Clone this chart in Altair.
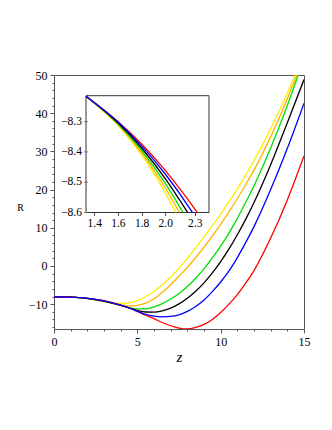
import altair as alt
import pandas as pd

# z grid (shared by all curves in the main plot)
z = [0, 0.5, 1, 1.33, 1.6, 1.8, 2.0, 2.2, 2.3, 2.4, 3, 3.5, 4, 4.5, 5, 5.5, 6, 6.5,
     7, 7.5, 8, 8.5, 9, 9.5, 10, 10.5, 11, 11.5, 12, 13, 14, 15]

yellow = [-8.11, -8.12, -8.16, -8.216, -8.312, -8.410, -8.535, -8.687, -8.772, -8.864,
          -9.35, -9.65, -9.80, -9.65, -9.10, -8.05, -6.60, -4.90, -2.90, -0.55, 2.00,
          4.75, 7.60, 10.55, 13.60, 16.85, 20.20, 23.80, 27.60, 35.90, 45.20, 55.60]
orange = [-8.11, -8.12, -8.16, -8.216, -8.309, -8.402, -8.519, -8.659, -8.737, -8.822,
          -9.30, -9.75, -10.15, -10.45, -10.30, -9.75, -8.60, -6.90, -4.90, -2.70, -0.40,
          2.20, 4.90, 7.85, 10.90, 14.20, 17.60, 21.30, 25.10, 33.80, 43.80, 54.80]
green = [-8.11, -8.12, -8.16, -8.216, -8.307, -8.395, -8.504, -8.634, -8.707, -8.785,
         -9.25, -9.72, -10.28, -10.90, -11.25, -11.20, -10.70, -9.85, -8.66, -7.20, -5.40,
         -3.20, -0.74, 2.10, 5.20, 8.60, 12.50, 16.60, 21.00, 30.90, 42.00, 54.50]
black = [-8.11, -8.12, -8.16, -8.216, -8.304, -8.387, -8.488, -8.606, -8.672, -8.743,
         -9.20, -9.70, -10.30, -10.95, -11.65, -12.05, -12.07, -11.73, -11.02, -9.93, -8.47,
         -6.63, -4.42, -1.83, 1.13, 4.47, 8.18, 12.20, 16.60, 26.50, 37.50, 48.80]
red = [-8.11, -8.12, -8.16, -8.216, -8.300, -8.374, -8.461, -8.562, -8.617, -8.675,
       -9.10, -9.60, -10.25, -11.00, -11.90, -12.90, -13.80, -14.80, -15.65, -16.25, -16.50,
       -16.10, -15.30, -14.00, -12.20, -10.00, -7.50, -4.50, -1.20, 7.30, 17.30, 28.80]
blue = [-8.11, -8.12, -8.16, -8.216, -8.301, -8.380, -8.473, -8.582, -8.642, -8.706,
        -9.15, -9.65, -10.28, -11.00, -11.85, -12.70, -13.15, -13.30, -13.20, -12.80, -11.90,
        -10.60, -8.90, -6.70, -4.20, -1.30, 2.20, 6.10, 10.30, 20.00, 30.80, 42.60]

# inset (zoom on 1.33 <= z <= 2.37, -8.6 <= R): last point is where each curve leaves the box
inset_yellow_z = [1.33, 1.6, 1.8, 2.0, 2.09]
inset_yellow_R = [-8.216, -8.312, -8.410, -8.535, -8.600]
inset_orange_z = [1.33, 1.6, 1.8, 2.0, 2.12]
inset_orange_R = [-8.216, -8.309, -8.402, -8.519, -8.600]
inset_green_z = [1.33, 1.6, 1.8, 2.0, 2.15]
inset_green_R = [-8.216, -8.307, -8.395, -8.504, -8.600]
inset_black_z = [1.33, 1.6, 1.8, 2.0, 2.19]
inset_black_R = [-8.216, -8.304, -8.387, -8.488, -8.600]
inset_blue_z = [1.33, 1.6, 1.8, 2.0, 2.2, 2.23]
inset_blue_R = [-8.216, -8.301, -8.380, -8.473, -8.582, -8.600]
inset_red_z = [1.33, 1.6, 1.8, 2.0, 2.2, 2.27]
inset_red_R = [-8.216, -8.300, -8.374, -8.461, -8.562, -8.600]

series = ["yellow", "orange", "green", "black", "red", "blue"]
colors = ["#ffee00", "#ffb400", "#00e000", "#000000", "#ff0000", "#0000ff"]
values = [yellow, orange, green, black, red, blue]
inset_values = [(inset_yellow_z, inset_yellow_R), (inset_orange_z, inset_orange_R),
                (inset_green_z, inset_green_R), (inset_black_z, inset_black_R),
                (inset_red_z, inset_red_R), (inset_blue_z, inset_blue_R)]

main_x_ticks = list(range(0, 16))
main_y_ticks = list(range(-16, 51, 2))
inset_x_ticks = [1.4, 1.6, 1.8, 2.0, 2.25]
inset_y_ticks = [-8.6, -8.5, -8.4, -8.3]
inset_x_min, inset_x_max = 1.33, 2.37
inset_y_min, inset_y_max = -8.6, -8.2145

rows = []
for name, vals in zip(series, values):
    for zi, v in zip(z, vals):
        rows.append({"z": zi, "R": v, "s": name})
df = pd.DataFrame(rows)

irows = []
for name, (zz, rr) in zip(series, inset_values):
    for zi, v in zip(zz, rr):
        irows.append({"z": zi, "R": v, "s": name})
idf = pd.DataFrame(irows)

FONT = "Liberation Serif"
AX = "#555555"
color = alt.Color("s:N", scale=alt.Scale(domain=series, range=colors), legend=None)

main = alt.Chart(df).mark_line(strokeWidth=1.3, clip=True, interpolate="monotone").encode(
    x=alt.X("z:Q", scale=alt.Scale(domain=[0, 15], nice=False, zero=False),
            axis=alt.Axis(values=main_x_ticks, orient="bottom", domain=False,
                          labelExpr="datum.value % 5 === 0 ? datum.label : ''",
                          tickSize={"condition": {"test": "datum.value % 5 === 0", "value": 4}, "value": 2},
                          tickColor=AX, labelFont=FONT, labelFontSize=12, labelColor="black",
                          labelPadding=3, labelFlush=False, labelOverlap=False, grid=False,
                          title="z", titleFont=FONT, titleFontStyle="italic", titleFontWeight="normal",
                          titleFontSize=15, titleX=125, titleY=27, titleBaseline="middle",
                          titleAlign="center", titleColor="black")),
    y=alt.Y("R:Q", scale=alt.Scale(domain=[-16.5, 50], nice=False, zero=False),
            axis=alt.Axis(values=main_y_ticks, orient="left", domain=False,
                          labelExpr="datum.value % 10 === 0 ? datum.label : ''",
                          tickSize={"condition": {"test": "datum.value % 10 === 0", "value": 4}, "value": 2},
                          tickColor=AX, labelFont=FONT, labelFontSize=12, labelColor="black",
                          labelPadding=3, labelFlush=False, labelOverlap=False, grid=False,
                          title="R", titleFont=FONT, titleFontWeight="normal", titleFontSize=10,
                          titleAngle=0, titleX=-34, titleY=132, titleAlign="center",
                          titleBaseline="middle", titleColor="black")),
    color=color,
)

ix_scale = alt.Scale(domain=[inset_x_min, inset_x_max], range=[32, 155], nice=False, zero=False)
iy_scale = alt.Scale(domain=[inset_y_min, inset_y_max], range=[137.5, 20.7], nice=False, zero=False)

ix_axis = alt.Axis(values=inset_x_ticks, orient="bottom", offset=-116.5, domain=False,
                   format=".1f", tickSize=3, tickColor=AX, labelFont=FONT,
                   labelFontSize=11.5, labelColor="black", labelPadding=2,
                   labelFlush=False, labelOverlap=False, grid=False, title=None)

inset_rect = alt.Chart(pd.DataFrame({"a": [0]})).mark_rect(
    fill="white", stroke="#333333", strokeWidth=1).encode(
    x=alt.X(datum=inset_x_min, type="quantitative", scale=ix_scale, axis=ix_axis),
    x2=alt.X2(datum=inset_x_max),
    y=alt.Y(datum=inset_y_min, type="quantitative", scale=iy_scale, axis=None),
    y2=alt.Y2(datum=inset_y_max),
)

inset_lines = alt.Chart(idf).mark_line(strokeWidth=1.3, interpolate="monotone").encode(
    x=alt.X("z:Q", scale=ix_scale, axis=ix_axis),
    y=alt.Y("R:Q", scale=iy_scale, axis=None),
    color=color,
)

ytick_df = pd.DataFrame({"v": inset_y_ticks})
inset_ylabels = alt.Chart(ytick_df).mark_text(
    align="right", baseline="middle", dx=-4, font=FONT, fontSize=11.5, color="black").encode(
    x=alt.X(datum=inset_x_min, type="quantitative", scale=ix_scale, axis=ix_axis),
    y=alt.Y("v:Q", scale=iy_scale, axis=None),
    text=alt.Text("v:Q", format=".1f"),
)
inset_yticks = alt.Chart(ytick_df).mark_tick(
    orient="horizontal", size=4, thickness=1, color=AX).encode(
    x=alt.X(datum=inset_x_min, type="quantitative", scale=ix_scale, axis=ix_axis),
    y=alt.Y("v:Q", scale=iy_scale, axis=None),
)

inset = alt.layer(inset_rect, inset_lines, inset_yticks, inset_ylabels)

chart = alt.layer(main, inset).resolve_scale(
    x="independent", y="independent"
).resolve_axis(x="independent", y="independent").properties(
    width=250, height=254,
    autosize=alt.AutoSizeParams(type="none"),
    padding={"left": 46, "top": 67, "right": 20, "bottom": 93},
).configure_view(stroke=AX, strokeWidth=1)

chart.save("out.html", embed_options={"renderer": "svg", "actions": False})
